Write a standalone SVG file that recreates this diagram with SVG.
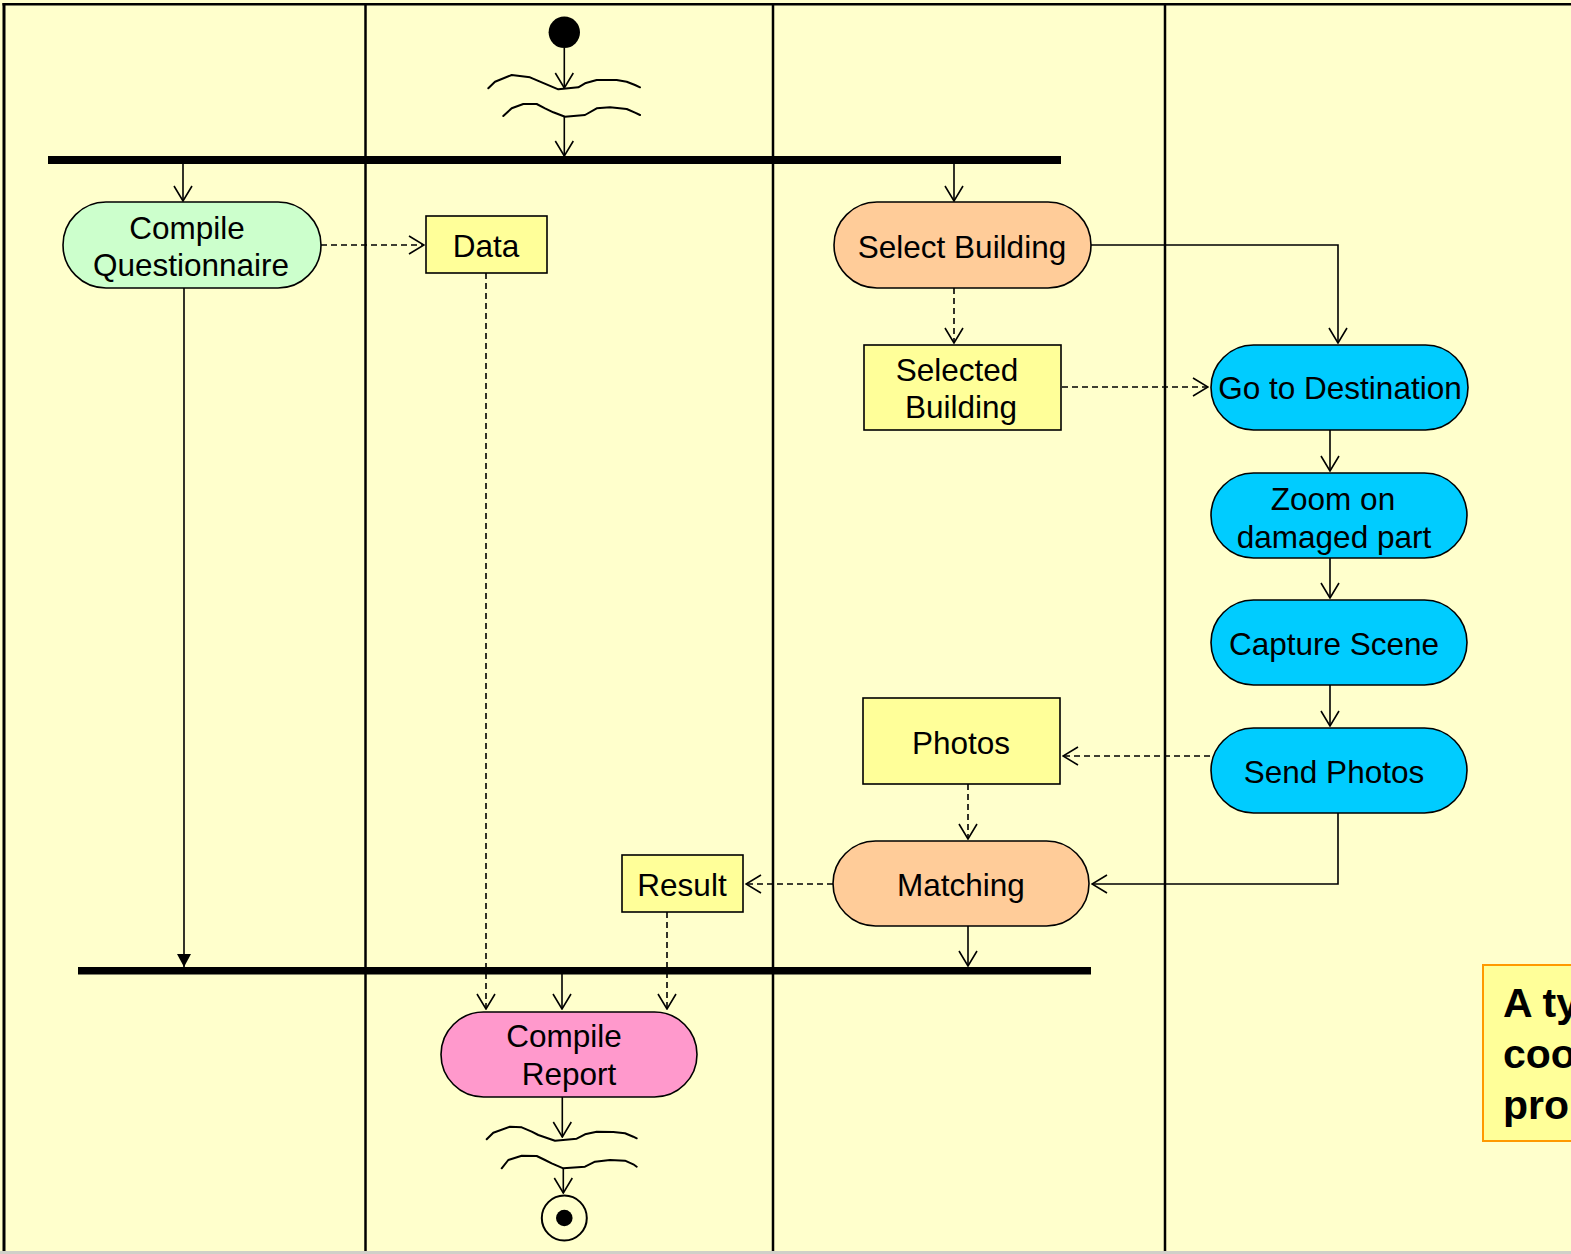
<svg xmlns="http://www.w3.org/2000/svg" width="1571" height="1254" viewBox="0 0 1571 1254">
  <defs>
    <style>
      .lbl { font-family: "Liberation Sans", Arial, sans-serif; font-size: 31.5px; fill: #000; text-anchor: middle; }
      .note { font-family: "Liberation Sans", Arial, sans-serif; font-size: 41px; font-weight: bold; fill: #000; }
      .act { stroke: #000; stroke-width: 1.6; }
      .obj { fill: #FFFF99; stroke: #000; stroke-width: 1.6; }
      .flow { fill: none; stroke: #000; stroke-width: 1.6; marker-end: url(#open); }
      .dflow { fill: none; stroke: #000; stroke-width: 1.6; stroke-dasharray: 6 4; marker-end: url(#open); }
      .wave { fill: none; stroke: #000; stroke-width: 2; stroke-linejoin: round; stroke-linecap: round; }
      .bar { fill: #000; }
      .lane { stroke: #000; stroke-width: 2.5; }
    </style>
    <marker id="open" markerUnits="userSpaceOnUse" viewBox="0 0 17 20" refX="16" refY="10" markerWidth="17" markerHeight="20" orient="auto">
      <path d="M1,1 L16,10 L1,19" fill="none" stroke="#000" stroke-width="1.6" stroke-dasharray="none"/>
    </marker>
    <marker id="solid" markerUnits="userSpaceOnUse" viewBox="0 0 13 14" refX="13" refY="7" markerWidth="13" markerHeight="14" orient="auto">
      <path d="M0,0 L13,7 L0,14 Z" fill="#000"/>
    </marker>
  </defs>

  <!-- swimlane frame -->
  <g id="frame">
    <rect x="0" y="0" width="1571" height="1251" fill="#FFFFCC"/>
    <rect x="0" y="1251" width="1571" height="3" fill="#D0D0C8"/>
    <line class="lane" x1="4" y1="3" x2="4" y2="1251" style="stroke-width:3"/>
    <line class="lane" x1="2.5" y1="4.3" x2="1571" y2="4.3"/>
    <line class="lane" x1="365.5" y1="4" x2="365.5" y2="1251"/>
    <line class="lane" x1="773" y1="4" x2="773" y2="1251"/>
    <line class="lane" x1="1165" y1="4" x2="1165" y2="1251"/>
  </g>

  <!-- connectors -->
  <g id="connectors">
    <line class="flow" x1="564.3" y1="48" x2="564.3" y2="88"/>
    <line class="flow" x1="564.3" y1="116.5" x2="564.3" y2="156"/>
    <line class="flow" x1="183" y1="164" x2="183" y2="201"/>
    <line class="flow" x1="954" y1="164" x2="954" y2="201"/>
    <line x1="184" y1="288" x2="184" y2="967" stroke="#000" stroke-width="1.6" marker-end="url(#solid)"/>
    <line class="dflow" x1="321" y1="245" x2="424" y2="245"/>
    <line class="dflow" x1="486" y1="273" x2="486" y2="1009"/>
    <line class="dflow" x1="954" y1="288" x2="954" y2="343"/>
    <polyline class="flow" points="1091,245 1338,245 1338,343"/>
    <line class="dflow" x1="1062" y1="387" x2="1208" y2="387"/>
    <line class="flow" x1="1330" y1="430" x2="1330" y2="471"/>
    <line class="flow" x1="1330" y1="558" x2="1330" y2="598"/>
    <line class="flow" x1="1330" y1="685" x2="1330" y2="726"/>
    <line class="dflow" x1="1210" y1="756" x2="1063" y2="756"/>
    <line class="dflow" x1="968" y1="784" x2="968" y2="839"/>
    <polyline class="flow" points="1338,813 1338,884 1092,884"/>
    <line class="dflow" x1="833" y1="884" x2="746" y2="884"/>
    <line class="flow" x1="968" y1="926" x2="968" y2="966"/>
    <line class="dflow" x1="667" y1="912" x2="667" y2="1009"/>
    <line class="flow" x1="562" y1="974" x2="562" y2="1009"/>
    <line class="flow" x1="562.3" y1="1097" x2="562.3" y2="1137"/>
    <line class="flow" x1="563.3" y1="1168" x2="563.3" y2="1193"/>
  </g>

  <!-- initial node with interruption marks -->
  <g id="start">
    <circle cx="564.3" cy="32.3" r="15.7" fill="#000"/>
    <path class="wave" d="M488.3,88.3 L495,81.7 L511.7,75 L530,77.3 L540,81.7 L558.3,89.3 L578.3,87.3 L585,83.3 L596.7,80 L616.7,80 L626.7,81.7 L635,85 L640,87.3"/>
    <path class="wave" d="M503.3,116 L511.7,108.3 L523.3,104 L536.7,104 L545,108.3 L553.3,112.3 L565,116.7 L585,115 L596.7,108.3 L610,107.3 L626.7,109 L635,112.7 L640,115"/>
  </g>

  <!-- fork and join bars -->
  <g id="fork"><rect class="bar" x="48" y="156" width="1013" height="8"/></g>
  <g id="join"><rect class="bar" x="78" y="967" width="1013" height="7.5"/></g>

  <!-- activities and objects -->
  <g id="compile-questionnaire">
    <rect class="act" x="63" y="202" width="258" height="86" rx="43" fill="#CCFFCC"/>
    <text class="lbl" x="187" y="239">Compile</text>
    <text class="lbl" x="191" y="276">Questionnaire</text>
  </g>
  <g id="data">
    <rect class="obj" x="426" y="216" width="121" height="57"/>
    <text class="lbl" x="486" y="257">Data</text>
  </g>
  <g id="select-building">
    <rect class="act" x="834" y="202" width="257" height="86" rx="43" fill="#FFCC99"/>
    <text class="lbl" x="962" y="258">Select Building</text>
  </g>
  <g id="selected-building">
    <rect class="obj" x="864" y="345" width="197" height="85"/>
    <text class="lbl" x="957" y="381">Selected</text>
    <text class="lbl" x="961" y="418">Building</text>
  </g>
  <g id="go-to-destination">
    <rect class="act" x="1211" y="345" width="257" height="85" rx="42.5" fill="#00CCFF"/>
    <text class="lbl" x="1340" y="399">Go to Destination</text>
  </g>
  <g id="zoom-on-damaged-part">
    <rect class="act" x="1211" y="473" width="256" height="85" rx="42.5" fill="#00CCFF"/>
    <text class="lbl" x="1333" y="510">Zoom on</text>
    <text class="lbl" x="1334" y="548">damaged part</text>
  </g>
  <g id="capture-scene">
    <rect class="act" x="1211" y="600" width="256" height="85" rx="42.5" fill="#00CCFF"/>
    <text class="lbl" x="1334" y="655">Capture Scene</text>
  </g>
  <g id="send-photos">
    <rect class="act" x="1211" y="728" width="256" height="85" rx="42.5" fill="#00CCFF"/>
    <text class="lbl" x="1334" y="783">Send Photos</text>
  </g>
  <g id="photos">
    <rect class="obj" x="863" y="698" width="197" height="86"/>
    <text class="lbl" x="961" y="754">Photos</text>
  </g>
  <g id="matching">
    <rect class="act" x="833" y="841" width="256" height="85" rx="42.5" fill="#FFCC99"/>
    <text class="lbl" x="961" y="896">Matching</text>
  </g>
  <g id="result">
    <rect class="obj" x="622" y="855" width="121" height="57"/>
    <text class="lbl" x="682" y="896">Result</text>
  </g>
  <g id="compile-report">
    <rect class="act" x="441" y="1012" width="256" height="85" rx="42.5" fill="#FF99CC"/>
    <text class="lbl" x="564" y="1047">Compile</text>
    <text class="lbl" x="569" y="1085">Report</text>
  </g>

  <!-- final node with interruption marks -->
  <g id="end">
    <path class="wave" d="M486.7,1139.3 L493.3,1132.7 L510,1126.7 L521.7,1127.3 L531.7,1131.7 L538.3,1135 L555,1140.7 L576.7,1138.7 L585,1134.3 L596.7,1131.7 L613.3,1132 L625,1133.3 L633.3,1136.7 L636.7,1138.3"/>
    <path class="wave" d="M501.7,1168.3 L508.3,1160 L521.7,1155.7 L536.7,1156 L545,1160 L551.7,1163.3 L563.3,1168.3 L585,1166.7 L595,1161.7 L610,1160 L625,1160.7 L633.3,1164.3 L636.7,1166.7"/>
    <circle cx="564.3" cy="1218" r="22.5" fill="none" stroke="#000" stroke-width="2"/>
    <circle cx="564.3" cy="1218" r="8.3" fill="#000"/>
  </g>

  <!-- caption box -->
  <g id="caption">
    <rect x="1483" y="965" width="100" height="176" fill="#FFFF99" stroke="#FF9900" stroke-width="2"/>
    <text class="note" x="1503" y="1017">A ty</text>
    <text class="note" x="1503" y="1068">coo</text>
    <text class="note" x="1503" y="1119">pro</text>
  </g>
</svg>
